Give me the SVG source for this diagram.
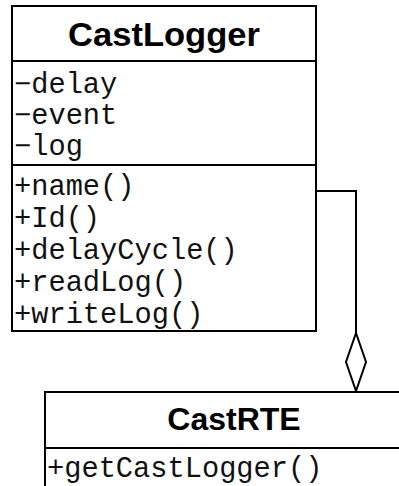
<svg xmlns="http://www.w3.org/2000/svg" width="399" height="486" viewBox="0 0 399 486">
<style>
.box{fill:#fff;stroke:#000;stroke-width:2}
.ln{stroke:#000;stroke-width:2;fill:none}
.title{font-family:"Liberation Sans",Arial,sans-serif;font-weight:bold;font-size:32px;text-anchor:middle;fill:#000}
.mono{font-family:"Liberation Mono","Courier New",monospace;font-size:28.7px;fill:#111}
</style>
<rect width="399" height="486" fill="#fff"/>
<g id="connectors">
<polyline class="ln" points="316,191 356,191 356,333"/>
<polygon class="ln" fill="#fff" points="356,333 366,362 356,391 346,362"/>
</g>
<g id="CastLogger">
<rect class="box" x="12" y="6" width="304" height="325"/>
<line class="ln" x1="12" y1="61" x2="316" y2="61"/>
<line class="ln" x1="12" y1="165" x2="316" y2="165"/>
<text class="title" x="164" y="46" style="font-size:33px" textLength="192" lengthAdjust="spacingAndGlyphs">CastLogger</text>
<text class="mono" x="14" y="93">−delay</text>
<text class="mono" x="14" y="124">−event</text>
<text class="mono" x="14" y="155">−log</text>
<text class="mono" x="14" y="195">+name()</text>
<text class="mono" x="14" y="227">+Id()</text>
<text class="mono" x="14" y="259">+delayCycle()</text>
<text class="mono" x="14" y="291">+readLog()</text>
<text class="mono" x="14" y="323">+writeLog()</text>
</g>
<g id="CastRTE">
<rect class="box" x="45" y="392" width="380" height="120"/>
<line class="ln" x1="45" y1="448" x2="425" y2="448"/>
<text class="title" x="234" y="430">CastRTE</text>
<text class="mono" x="47" y="477">+getCastLogger()</text>
</g>
</svg>
